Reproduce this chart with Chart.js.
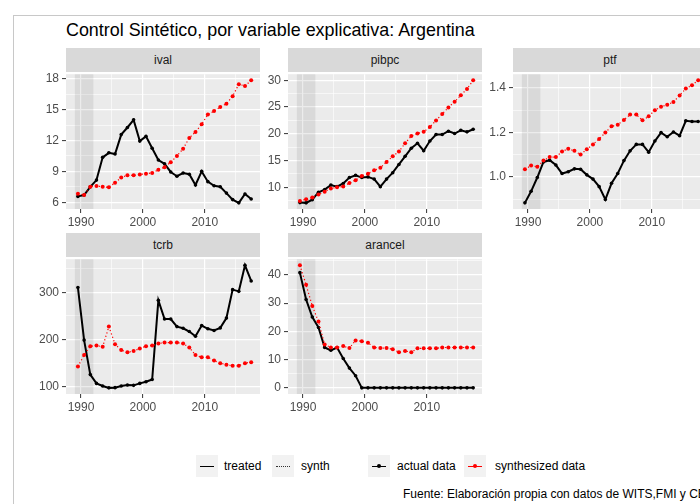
<!DOCTYPE html>
<html>
<head>
<meta charset="utf-8">
<script src="https://cdn.jsdelivr.net/npm/chart.js@4.4.0/dist/chart.umd.min.js"></script>
<style>
  body { margin: 0; width: 700px; height: 504px; overflow: hidden; background: #fff; position: relative;
         font-family: "Liberation Sans", Arial, sans-serif; }
  #frame { position: absolute; left: 13px; top: 15px; width: 900px; height: 700px; border: 1px solid #c8c8c8; }
  #title { position: absolute; left: 66px; top: 21.5px; font-size: 17.9px; line-height: 1; color: #000; white-space: nowrap; }
  .strip { position: absolute; height: 24px; width: 194px; background: #d9d9d9; color: #1a1a1a;
           font-size: 12px; line-height: 24px; text-align: center; }
  canvas { position: absolute; }
  .key { position: absolute; top: 455px; width: 22px; height: 22px; background: #f2f2f2; }
  .ln { position: absolute; left: 4px; width: 14px; top: 10.5px; height: 0; border-top: 1.2px solid #000; }
  .ln.dot { border-top: 1.2px dotted #333; }
  .ln.red { border-top-color: #ff0000; }
  .pt { position: absolute; left: 9px; top: 9px; width: 4px; height: 4px; border-radius: 50%; background: #000; }
  .pt.red { background: #ff0000; }
  .lab { position: absolute; top: 455px; height: 22px; line-height: 22px; font-size: 12px; color: #000; white-space: nowrap; }
  #caption { position: absolute; left: 403px; top: 487.5px; font-size: 12px; line-height: 1; color: #000; white-space: nowrap; }
</style>
</head>
<body>
<div id="frame"></div>
<div id="title">Control Sintético, por variable explicativa: Argentina</div>

<div class="key" style="left:196px"><div class="ln"></div></div>
<div class="lab" style="left:224px">treated</div>
<div class="key" style="left:272px"><div class="ln dot"></div></div>
<div class="lab" style="left:301px">synth</div>
<div class="key" style="left:368px"><div class="ln"></div><div class="pt"></div></div>
<div class="lab" style="left:397px">actual data</div>
<div class="key" style="left:464px"><div class="ln red"></div><div class="pt red"></div></div>
<div class="lab" style="left:495px">synthesized data</div>

<div id="caption">Fuente: Elaboración propia con datos de WITS,FMI y CEPAL</div>

<script>
// años observados (los puntos caen a mitad de año)
const years = [1989, 1990, 1991, 1992, 1993, 1994, 1995, 1996, 1997, 1998, 1999, 2000, 2001, 2002, 2003,
               2004, 2005, 2006, 2007, 2008, 2009, 2010, 2011, 2012, 2013, 2014, 2015, 2016, 2017];
const yearOffset = 0.5;
const xTicks = [1990, 2000, 2010];
// periodo sombreado (pre-tratamiento)
const shadeFrom = 1989, shadeTo = 1992;

const ivalActual = [6.57, 6.7, 7.5, 8.15, 10.36, 10.8, 10.68, 12.57, 13.26, 14.0, 11.94, 12.4, 11.25, 10.1, 9.73,
                    8.94, 8.53, 8.84, 8.72, 7.68, 9.0, 8.0, 7.6, 7.5, 6.89, 6.26, 5.94, 6.8, 6.32];
const ivalSynth = [6.82, 6.7, 7.5, 7.58, 7.5, 7.46, 7.9, 8.4, 8.62, 8.62, 8.7, 8.78, 8.84, 9.16, 9.41,
                   9.88, 10.5, 11.2, 12.25, 12.82, 13.58, 14.52, 14.85, 15.25, 15.57, 16.3, 17.46, 17.3, 17.84];
const ivalTicks = [6, 9, 12, 15, 18];

const pibpcActual = [7.15, 7.1, 7.7, 9.09, 9.58, 10.44, 10.13, 10.73, 11.83, 12.27, 11.83, 11.95, 11.54, 10.13, 11.54,
                     12.74, 14.28, 15.8, 17.31, 18.23, 16.84, 18.66, 19.87, 19.87, 20.49, 20.06, 20.67, 20.37, 20.86];
const pibpcSynth = [7.44, 7.8, 8.1, 8.67, 9.2, 9.8, 10.0, 10.18, 10.8, 11.35, 12.14, 12.56, 13.18, 13.66, 14.75,
                    15.8, 16.7, 18.23, 19.58, 20.06, 20.37, 21.28, 22.5, 23.71, 24.94, 26.0, 27.2, 28.4, 30.0];
const pibpcTicks = [10, 15, 20, 25, 30];

const ptfActual = [0.883, 0.935, 0.997, 1.067, 1.075, 1.053, 1.015, 1.023, 1.036, 1.034, 1.009, 0.99, 0.956, 0.898, 0.971,
                   1.015, 1.073, 1.117, 1.146, 1.146, 1.111, 1.161, 1.199, 1.18, 1.202, 1.185, 1.252, 1.249, 1.249];
const ptfSynth = [1.034, 1.051, 1.045, 1.073, 1.089, 1.089, 1.114, 1.126, 1.117, 1.1, 1.124, 1.146, 1.17, 1.199, 1.227,
                  1.234, 1.256, 1.28, 1.28, 1.254, 1.272, 1.3, 1.315, 1.324, 1.337, 1.366, 1.397, 1.412, 1.434];
const ptfTicks = [1.0, 1.2, 1.4];

const tcrbActual = [310, 199, 126, 107.5, 102, 98, 98.5, 102, 104, 103.3, 107.5, 111, 115.7, 283, 243.5,
                    243.5, 227.5, 224, 217, 207, 229.6, 222.8, 219.3, 224.8, 245.5, 305.6, 302, 357, 324];
const tcrbSynth = [143, 167.5, 186, 187.6, 184.7, 227.5, 190.3, 177.8, 173.1, 175.8, 181.2, 186.1, 187.6, 191.7, 193.8,
                   193.8, 193.8, 191.7, 183.4, 167.5, 162.7, 162.7, 155.7, 150.3, 146.8, 144.7, 144.7, 150.3, 152.4];
const tcrbTicks = [100, 200, 300];

const arancelActual = [40.8, 31.3, 25.1, 21.4, 14.3, 13.3, 14.3, 10.4, 7.0, 4.3, 0, 0, 0, 0, 0,
                       0, 0, 0, 0, 0, 0, 0, 0, 0, 0, 0, 0, 0, 0];
const arancelSynth = [43.4, 36.5, 29.0, 23.5, 15.4, 14.3, 14.3, 14.8, 14.1, 16.8, 16.5, 16.0, 14.3, 14.1, 14.1,
                      13.7, 12.6, 13.1, 12.6, 14.0, 14.0, 14.0, 14.0, 14.3, 14.3, 14.3, 14.3, 14.3, 14.3];
const arancelTicks = [0, 10, 20, 30, 40];

const panels = [
  { name: "ival", actual: ivalActual, synth: ivalSynth, ticks: ivalTicks, dec: 0, col: 0, row: 0 },
  { name: "pibpc", actual: pibpcActual, synth: pibpcSynth, ticks: pibpcTicks, dec: 0, col: 1, row: 0 },
  { name: "ptf", actual: ptfActual, synth: ptfSynth, ticks: ptfTicks, dec: 1, col: 2, row: 0 },
  { name: "tcrb", actual: tcrbActual, synth: tcrbSynth, ticks: tcrbTicks, dec: 0, col: 0, row: 1 },
  { name: "arancel", actual: arancelActual, synth: arancelSynth, ticks: arancelTicks, dec: 0, col: 1, row: 1 },
];

// layout of the facet grid
const colLeft = [66, 288, 513];
const rowTop = [72, 257];
const plotW = 194, plotH = 137;
const axisW = 40, axisH = 26, padT = 8, padR = 8;

// ggplot-like 5% expansion
function expand(lo, hi) {
  const r = hi - lo;
  return [lo - 0.05 * r, hi + 0.05 * r];
}
// major + minor breaks (minor halfway)
function withMinor(majors, min, max) {
  const step = majors[1] - majors[0];
  const out = [];
  for (let v = majors[0] - step; v <= majors[majors.length - 1] + step + 1e-9; v += step / 2) {
    const r = Math.round(v * 1e6) / 1e6;
    if (r >= min && r <= max) out.push(r);
  }
  return out;
}
const isIn = (arr, v) => arr.some(m => Math.abs(m - v) < 1e-6);

const xs = years.map(y => y + yearOffset);
const [xMin, xMax] = expand(Math.min(shadeFrom, xs[0]), Math.max(shadeTo, xs[xs.length - 1]));
const xAll = withMinor(xTicks, xMin, xMax);

const panelBg = {
  id: "panelBg",
  beforeDraw(chart) {
    const { ctx, chartArea: a } = chart;
    ctx.save();
    ctx.fillStyle = "#ebebeb";
    ctx.fillRect(a.left, a.top, a.width, a.height);
    ctx.restore();
  },
  beforeDatasetsDraw(chart) {
    const { ctx, chartArea: a, scales } = chart;
    const x0 = scales.x.getPixelForValue(shadeFrom), x1 = scales.x.getPixelForValue(shadeTo);
    ctx.save();
    ctx.fillStyle = "rgba(0,0,0,0.075)";
    ctx.fillRect(x0, a.top, x1 - x0, a.height);
    ctx.restore();
  }
};

const tickFont = { family: "'Liberation Sans', Arial, sans-serif", size: 12 };

panels.forEach(p => {
  const left = colLeft[p.col], top = rowTop[p.row];

  const strip = document.createElement("div");
  strip.className = "strip";
  strip.style.left = left + "px";
  strip.style.top = (top - 24) + "px";
  strip.textContent = p.name;
  document.body.appendChild(strip);

  const cv = document.createElement("canvas");
  cv.width = axisW + plotW + padR;
  cv.height = padT + plotH + axisH;
  cv.style.left = (left - axisW) + "px";
  cv.style.top = (top - padT) + "px";
  document.body.appendChild(cv);

  const all = p.actual.concat(p.synth);
  const [yMin, yMax] = expand(Math.min(...all), Math.max(...all));
  const yAll = withMinor(p.ticks, yMin, yMax);

  new Chart(cv, {
    type: "line",
    data: {
      datasets: [
        {
          label: "synthesized data",
          data: xs.map((x, i) => ({ x, y: p.synth[i] })),
          borderColor: "#ff0000",
          borderWidth: 1.2,
          borderDash: [1.2, 2.4],
          pointRadius: 2,
          pointBackgroundColor: "#ff0000",
          pointBorderWidth: 0,
          tension: 0
        },
        {
          label: "actual data",
          data: xs.map((x, i) => ({ x, y: p.actual[i] })),
          borderColor: "#000000",
          borderWidth: 2,
          pointRadius: 1.8,
          pointBackgroundColor: "#000000",
          pointBorderWidth: 0,
          tension: 0
        }
      ]
    },
    options: {
      responsive: false,
      animation: false,
      devicePixelRatio: 1,
      layout: { padding: { top: padT, right: padR, left: 0, bottom: 0 } },
      plugins: { legend: { display: false }, tooltip: { enabled: false } },
      scales: {
        x: {
          type: "linear",
          min: xMin,
          max: xMax,
          afterBuildTicks: s => { s.ticks = xAll.map(v => ({ value: v })); },
          afterFit: s => { s.height = axisH; },
          border: { display: false },
          grid: {
            color: "#ffffff",
            lineWidth: c => isIn(xTicks, c.tick.value) ? 1.2 : 0.6,
            tickColor: c => isIn(xTicks, c.tick.value) ? "#333333" : "rgba(0,0,0,0)",
            tickLength: 4,
            tickWidth: 1
          },
          ticks: {
            autoSkip: false,
            maxRotation: 0,
            padding: 2,
            color: "#4d4d4d",
            font: tickFont,
            callback: v => isIn(xTicks, v) ? String(v) : ""
          }
        },
        y: {
          type: "linear",
          min: yMin,
          max: yMax,
          afterBuildTicks: s => { s.ticks = yAll.map(v => ({ value: v })); },
          afterFit: s => { s.width = axisW; },
          border: { display: false },
          grid: {
            color: "#ffffff",
            lineWidth: c => isIn(p.ticks, c.tick.value) ? 1.2 : 0.6,
            tickColor: c => isIn(p.ticks, c.tick.value) ? "#333333" : "rgba(0,0,0,0)",
            tickLength: 4,
            tickWidth: 1
          },
          ticks: {
            autoSkip: false,
            padding: 3,
            color: "#4d4d4d",
            font: tickFont,
            callback: v => isIn(p.ticks, v) ? v.toFixed(p.dec) : ""
          }
        }
      }
    },
    plugins: [panelBg]
  });
});
</script>
</body>
</html>
